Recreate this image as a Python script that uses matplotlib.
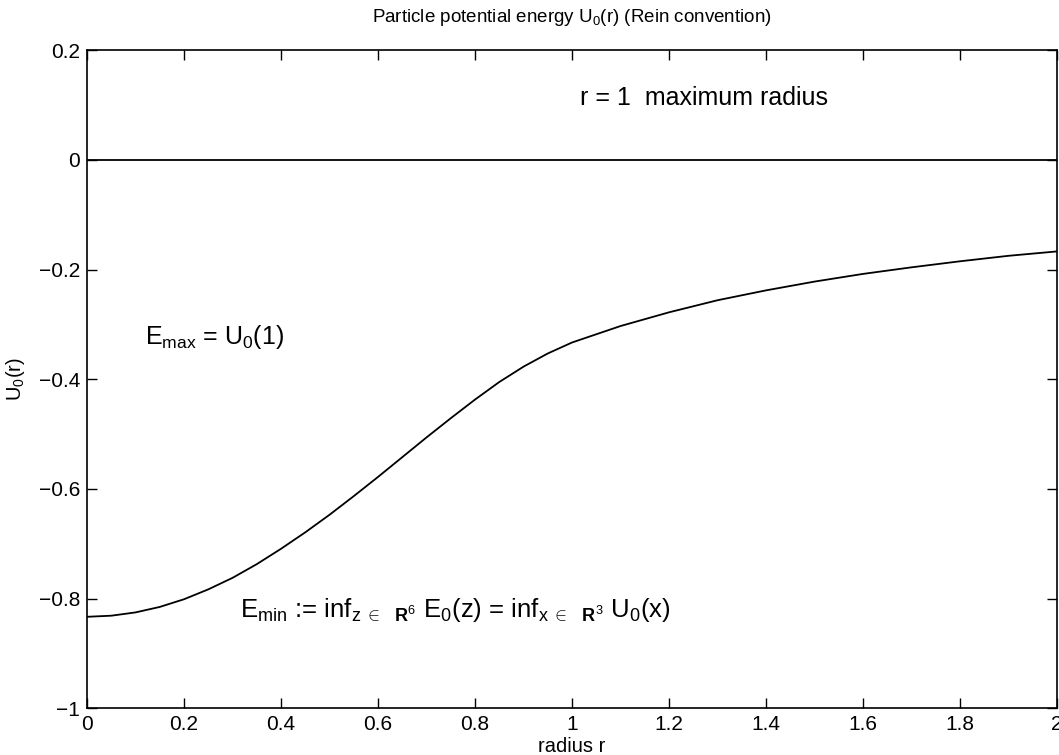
import numpy as np
import matplotlib
matplotlib.use("Agg")
import matplotlib.pyplot as plt

plt.rcParams['font.family'] = ['Liberation Sans', 'DejaVu Sans']
plt.rcParams['mathtext.fontset'] = 'custom'
plt.rcParams['mathtext.rm'] = 'Liberation Sans'
plt.rcParams['mathtext.it'] = 'Liberation Sans'
plt.rcParams['mathtext.bf'] = 'Liberation Sans:bold'

# values
radius = [0.0, 0.05, 0.1, 0.15, 0.2, 0.25, 0.3, 0.35, 0.4, 0.45, 0.5,
          0.55, 0.6, 0.65, 0.7, 0.75, 0.8, 0.85, 0.9, 0.95, 1.0,
          1.1, 1.2, 1.3, 1.4, 1.5, 1.6, 1.7, 1.8, 1.9, 2.0]
potential = [-0.833, -0.831, -0.825, -0.815, -0.801, -0.783, -0.762, -0.737, -0.709, -0.679, -0.647,
             -0.613, -0.578, -0.542, -0.506, -0.471, -0.437, -0.405, -0.377, -0.353, -0.333,
             -0.303, -0.278, -0.256, -0.238, -0.222, -0.208, -0.196, -0.185, -0.175, -0.167]
zero_r = [0.0, 2.0]
zero_u = [0.0, 0.0]
xticks = [0, 0.2, 0.4, 0.6, 0.8, 1, 1.2, 1.4, 1.6, 1.8, 2]
yticks = [-1, -0.8, -0.6, -0.4, -0.2, 0, 0.2]

fig = plt.figure(figsize=(10.59, 7.55), dpi=100)
ax = fig.add_axes([0.0822, 0.0617, 0.916, 0.872])

ax.plot(zero_r, zero_u, color='black', lw=1.3)
ax.plot(radius, potential, color='black', lw=1.3)

ax.set_xlim(0, 2)
ax.set_ylim(-1, 0.2)
ax.set_xticks(xticks)
ax.set_xticklabels(['0', '0.2', '0.4', '0.6', '0.8', '1', '1.2', '1.4', '1.6', '1.8', '2'])
ax.set_yticks(yticks)
ax.set_yticklabels(['\u22121', '\u22120.8', '\u22120.6', '\u22120.4', '\u22120.2', '0', '0.2'])
ax.tick_params(direction='in', length=7, width=1, top=True, right=True,
               labelsize=15, pad=5)
for s in ax.spines.values():
    s.set_linewidth(1.2)

ax.set_title('Particle potential energy U$_0$(r) (Rein convention)', fontsize=13.5, pad=20)
ax.set_xlabel('radius r', fontsize=14.5, labelpad=2)
ax.set_ylabel('U$_0$(r)', fontsize=14.5)
ax.yaxis.set_label_coords(-0.062, 0.5)

ax.text(1.016, 0.10, 'r = 1  maximum radius', fontsize=18, va='baseline')
ax.text(0.12, -0.335, r'E$_{\rm max}$ = U$_0$(1)', fontsize=18, va='baseline')
ax.text(0.315, -0.834,
        r'E$_{\rm min}$ := inf$_{\rm z\;\in\;\;\;\mathbf{R}^{6}}$ E$_0$(z) = inf$_{\rm x\;\in\;\;\;\mathbf{R}^{3}}$ U$_0$(x)',
        fontsize=18.5, va='baseline')

fig.savefig('out.png', dpi=100)
